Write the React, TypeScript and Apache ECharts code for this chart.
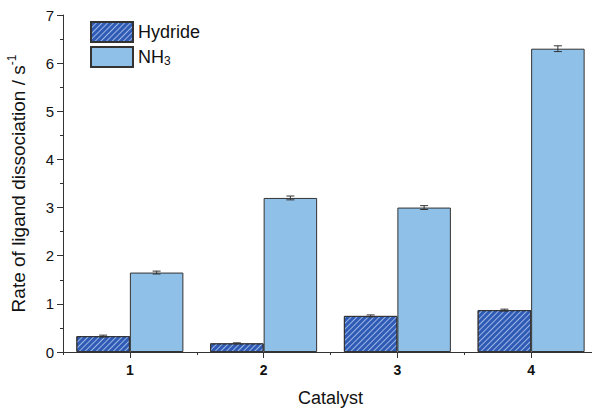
import React, { useEffect, useRef } from "react";
import * as echarts from "echarts";

const categories = ["1", "2", "3", "4"];
const hydride = [0.33, 0.18, 0.75, 0.87];
const hydrideErr = [0.02, 0.01, 0.02, 0.02];
const nh3 = [1.65, 3.2, 3.0, 6.3];
const nh3Err = [0.03, 0.04, 0.04, 0.06];
const yTicks = [0, 1, 2, 3, 4, 5, 6, 7];

const FONT = "Liberation Sans, Arial, sans-serif";

function errorSeries(name: string, values: number[], errs: number[], side: number) {
  return {
    type: "custom",
    name: name + "-err",
    xAxisIndex: 0,
    yAxisIndex: 0,
    z: 10,
    silent: true,
    data: values.map((v, i) => [i, v, errs[i]]),
    encode: { x: 0, y: 1 },
    renderItem: (params: any, api: any) => {
      const idx = api.value(0);
      const val = api.value(1);
      const err = api.value(2);
      const c = api.coord([idx, val]);
      const band = api.size([1, 0])[0];
      const barW = (band * 0.8) / 2;
      const cx = c[0] + (side * barW) / 2;
      const top = api.coord([idx, val + err])[1];
      const bot = api.coord([idx, val - err])[1];
      const cap = 4;
      const st = { stroke: "#333", lineWidth: 1 };
      return {
        type: "group",
        children: [
          { type: "line", shape: { x1: cx, y1: top, x2: cx, y2: bot }, style: st },
          { type: "line", shape: { x1: cx - cap, y1: top, x2: cx + cap, y2: top }, style: st },
          { type: "line", shape: { x1: cx - cap, y1: bot, x2: cx + cap, y2: bot }, style: st },
        ],
      };
    },
  };
}

export default function App() {
  const ref = useRef<HTMLDivElement>(null);
  useEffect(() => {
    if (!ref.current) return;
    const chart = echarts.init(ref.current, null, { renderer: "svg" });
    chart.setOption({
      animation: false,
      backgroundColor: "#fff",
      textStyle: { fontFamily: FONT },
      legend: {
        data: ["Hydride", "NH3"],
        orient: "vertical",
        left: 90,
        top: 21,
        padding: 0,
        itemWidth: 42,
        itemHeight: 20,
        itemGap: 3,
        icon: "rect",
        formatter: (name: string) => (name === "NH3" ? "{a|NH}{sub|3}" : "{a|Hydride}"),
        textStyle: {
          fontFamily: FONT,
          color: "#111",
          rich: {
            a: { fontSize: 18, lineHeight: 20, fontFamily: FONT, color: "#111" },
            sub: { fontSize: 12, lineHeight: 8, verticalAlign: "bottom", fontFamily: FONT, color: "#111" },
          },
        },
      },
      grid: { left: 63, top: 15, width: 535, bottom: 56, outerBoundsMode: "none", containLabel: false },
      xAxis: [
        {
          type: "category",
          data: categories,
          name: "Catalyst",
          nameLocation: "middle",
          nameGap: 37,
          nameTextStyle: { fontSize: 18, color: "#111", fontFamily: FONT },
          axisLine: { show: true, lineStyle: { color: "#333", width: 1 } },
          axisTick: { show: true, alignWithLabel: true, length: 6, lineStyle: { color: "#333" } },
          axisLabel: { fontSize: 14, fontWeight: "bold", color: "#111", margin: 11, fontFamily: FONT },
        },
        {
          type: "category",
          data: categories,
          position: "bottom",
          axisLine: { show: false },
          axisTick: { show: true, length: 3, lineStyle: { color: "#333" } },
          axisLabel: { show: false },
        },
      ],
      yAxis: {
        type: "value",
        min: 0,
        max: 7,
        interval: 1,
        name: "{a|Rate of ligand dissociation / s}{sup|-1}",
        nameLocation: "middle",
        nameGap: 33,
        nameRotate: 90,
        nameTextStyle: {
          fontFamily: FONT,
          rich: {
            a: { fontSize: 19, lineHeight: 24, color: "#111", fontFamily: FONT },
            sup: { fontSize: 12, lineHeight: 10, verticalAlign: "top", color: "#111", fontFamily: FONT },
          },
        },
        axisLine: { show: true, lineStyle: { color: "#333", width: 1 } },
        axisTick: { show: true, length: 6, lineStyle: { color: "#333" } },
        minorTick: { show: true, splitNumber: 2, length: 3, lineStyle: { color: "#333" } },
        splitLine: { show: false },
        axisLabel: {
          fontSize: 15,
          color: "#111",
          margin: 9,
          fontFamily: FONT,
          formatter: (v: number) => (yTicks.includes(v) ? String(v) : ""),
        },
      },
      series: [
        {
          type: "bar",
          name: "Hydride",
          data: hydride,
          barGap: "0%",
          barCategoryGap: "20%",
          itemStyle: {
            color: "#2f5bb5",
            borderColor: "#333",
            borderWidth: 1,
            decal: {
              symbol: "rect",
              symbolSize: 1,
              dashArrayX: [1, 0],
              dashArrayY: [1, 2.2],
              rotation: -Math.PI / 4,
              color: "rgba(190,210,245,0.75)",
            },
          },
        },
        {
          type: "bar",
          name: "NH3",
          data: nh3,
          barGap: "0%",
          barCategoryGap: "20%",
          itemStyle: { color: "#8fc0e8", borderColor: "#333", borderWidth: 1 },
        },
        errorSeries("Hydride", hydride, hydrideErr, -1),
        errorSeries("NH3", nh3, nh3Err, 1),
      ],
    });
    return () => chart.dispose();
  }, []);
  return <div ref={ref} style={{ width: 592, height: 408, position: "absolute", left: 0, top: 0 }} />;
}
